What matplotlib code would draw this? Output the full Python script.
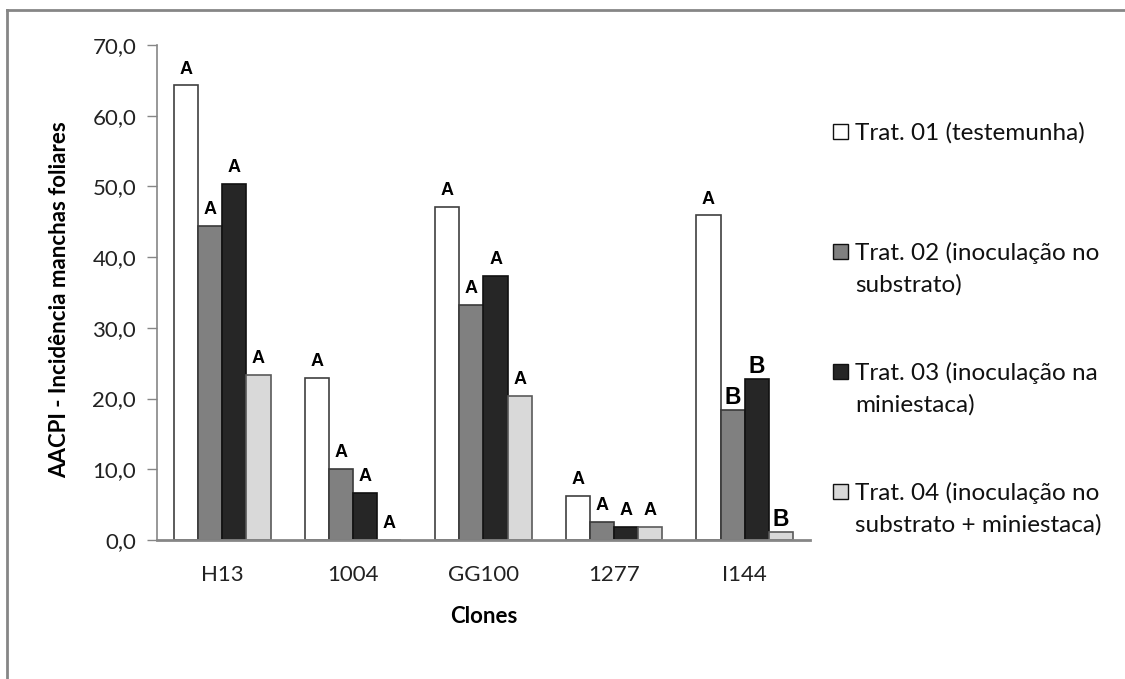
import matplotlib
matplotlib.use("Agg")
import matplotlib.pyplot as plt
from matplotlib.patches import Rectangle
import numpy as np

clones = ["H13", "1004", "GG100", "1277", "I144"]
trat01 = [64.3, 22.9, 47.1, 6.2, 45.9]
trat02 = [44.4, 10.0, 33.2, 2.6, 18.4]
trat03 = [50.4, 6.7, 37.4, 1.9, 22.7]
trat04 = [23.4, 0.0, 20.4, 1.9, 1.1]
letters01 = ["A", "A", "A", "A", "A"]
letters02 = ["A", "A", "A", "A", "B"]
letters03 = ["A", "A", "A", "A", "B"]
letters04 = ["A", "A", "A", "A", "B"]
legend_labels = ["Trat. 01 (testemunha)",
                 "Trat. 02 (inoculação no\nsubstrato)",
                 "Trat. 03 (inoculação na\nminiestaca)",
                 "Trat. 04 (inoculação no\nsubstrato + miniestaca)"]
yticks = [0, 10, 20, 30, 40, 50, 60, 70]

series = [trat01, trat02, trat03, trat04]
letters = [letters01, letters02, letters03, letters04]
colors = ["#ffffff", "#808080", "#262626", "#d9d9d9"]
edges = ["#404040", "#3a3a3a", "#111111", "#5a5a5a"]

W, H = 1125, 679
fig = plt.figure(figsize=(W / 100, H / 100), dpi=100)
ax = fig.add_axes([157 / W, 1 - 540 / H, (810 - 157) / W, 495 / H])

x = np.arange(len(clones))
bw = 0.185
for i, (vals, c, ec, lets) in enumerate(zip(series, colors, edges, letters)):
    xs = x + (i - 1.5) * bw
    ax.bar(xs, vals, width=bw, color=c, edgecolor=ec, linewidth=1.2, zorder=2)
    for xx, v, l in zip(xs, vals, lets):
        if l == "B":
            ax.annotate(l, (xx, v), xytext=(0, 4.5), textcoords="offset points",
                        ha="center", va="baseline", fontsize=16.5, fontweight="bold",
                        family="Liberation Sans")
        else:
            ax.annotate(l, (xx, v), xytext=(0, 8.5), textcoords="offset points",
                        ha="center", va="baseline", fontsize=13, fontweight="bold",
                        family="Liberation Sans")

ax.set_xlim(-0.5, 4.5)
ax.set_ylim(0, 70)
ax.set_yticks(yticks)
ax.set_yticklabels([f"{t:.1f}".replace(".", ",") for t in yticks],
                   family="Lato", fontsize=16, color="#222222")
ax.set_xticks(x)
ax.set_xticklabels(clones, family="Lato", fontsize=16, color="#222222")
ax.tick_params(axis="y", length=7, width=1, color="#868686", pad=8)
ax.tick_params(axis="x", length=0, pad=18)
for s in ["top", "right"]:
    ax.spines[s].set_visible(False)
ax.spines["left"].set_color("#868686")
ax.spines["bottom"].set_color("#868686")
ax.spines["left"].set_linewidth(1.2)
ax.spines["bottom"].set_linewidth(2)

ax.set_ylabel("AACPI - Incidência manchas foliares", family="Lato",
              fontsize=16, fontweight="bold")
ax.yaxis.set_label_coords(-0.133, 0.485)
ax.set_xlabel("Clones", family="Lato", fontsize=16, fontweight="bold")
ax.xaxis.set_label_coords(0.5, -0.133)

# legend (manual, handle aligned with first line)
baselines = [140, 260, 380, 500]
line_gap = 31.7
for lab, c, b in zip(legend_labels, colors, baselines):
    fig.add_artist(Rectangle((833 / W, 1 - (b - 1) / H), 15 / W, 15 / H,
                             transform=fig.transFigure, facecolor=c,
                             edgecolor="#111111", linewidth=1))
    for k, line in enumerate(lab.split("\n")):
        fig.text(855 / W, 1 - (b + k * line_gap) / H, line, family="Lato",
                 fontsize=17.5, va="baseline", ha="left", color="#111111")

# outer frame
fig.add_artist(plt.Line2D([7 / W, 7 / W], [0, 1 - 10 / H],
                          transform=fig.transFigure, color="#868686", lw=2))
fig.add_artist(plt.Line2D([7 / W, 1], [1 - 10 / H, 1 - 10 / H],
                          transform=fig.transFigure, color="#868686", lw=2))

fig.savefig("out.png", dpi=100)
